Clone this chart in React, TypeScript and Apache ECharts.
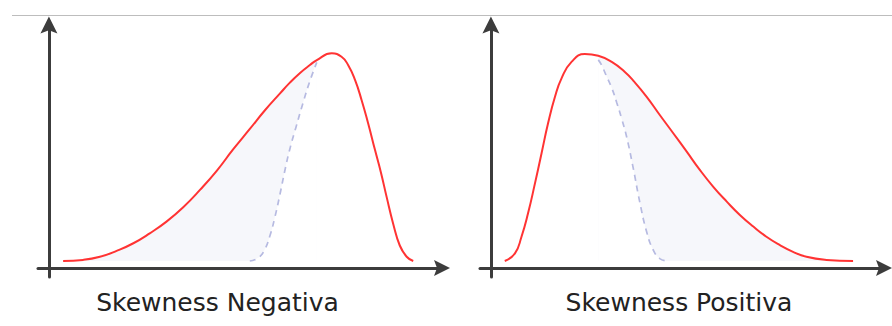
import React, { useEffect, useRef } from "react";
import * as echarts from "echarts";

// Negative skew panel: red curve and dashed (symmetric reference) curve
const negRed: number[][] = [
  [3.9, 3.1], [9.4, 3.6], [14, 5.0], [18.6, 7.6], [23.2, 11.0], [27.7, 15.4],
  [32.3, 20.6], [36.9, 27.0], [41.5, 34.7], [46.1, 43.2], [50.6, 52.7], [55.2, 61.8],
  [59.3, 70.0], [63.5, 77.6], [66.2, 82.4], [69.0, 86.7], [71.7, 90.2], [73.6, 92.4],
  [77.7, 95.4], [80.4, 93.9], [82.2, 90.2], [84.1, 83.6], [85.9, 74.7], [87.7, 64.3],
  [89.6, 52.4], [91.2, 42.6], [92.8, 31.5], [94.6, 19.6], [96.4, 10.0], [98.3, 5.0],
  [100.1, 3.1],
];
const negDashed: number[][] = [
  [55.2, 3.1], [57.4, 4.4], [59.1, 7.6], [60.7, 14.2], [62.1, 22.7], [63.5, 32.9],
  [64.8, 43.1], [66.2, 52.9], [67.9, 62.7], [69.8, 73.3], [71.7, 83.1], [73.6, 91.4],
];

// Positive skew panel
const posRed: number[][] = [
  [3.8, 3.1], [6.6, 6.5], [8.4, 13.9], [10.2, 24.3], [12.1, 37.6], [13.9, 50.9],
  [15.7, 64.3], [17.6, 76.1], [19.4, 84.3], [22.2, 91.7], [25.8, 95.1], [29.5, 94.3],
  [33.2, 91.6], [36.8, 87.1], [39.1, 83.3], [42.8, 76.1], [46.4, 68.0], [50.1, 59.9],
  [53.8, 51.7], [57.4, 43.6], [61.1, 36.1], [64.8, 29.5], [68.4, 23.6], [72.1, 18.4],
  [75.7, 13.9], [79.4, 10.2], [83.0, 7.2], [86.7, 5.0], [92.2, 3.6], [99.5, 3.1],
];
const posDashed: number[][] = [
  [29.5, 92.5], [30.4, 90.2], [31.6, 85.8], [33.2, 80.0], [34.6, 73.3], [35.9, 66.5],
  [37.3, 58.2], [39.1, 44.4], [40.9, 29.3], [42.8, 16.0], [44.6, 8.0], [46.4, 4.2],
  [48.4, 3.1],
];

const panelTitles = ["Skewness Negativa", "Skewness Positiva"];
const baseline = 3.1;

export default function App() {
  const ref = useRef<HTMLDivElement>(null);
  useEffect(() => {
    document.body.style.margin = "0";
    const chart = echarts.init(ref.current!, null, { renderer: "svg" });
    const red = "#ff3333";
    const fill = "#f6f7fb";
    const dashColor = "#b6bae1";
    const axisColor = "#3c3c3c";
    const arrow = "path://M0,-8 L8,8 L0,5 L-8,8 Z";

    const mkX = (i: number) => ({
      type: "value",
      gridIndex: i,
      min: -3,
      max: 108,
      axisLine: {
        show: true,
        onZero: true,
        symbol: ["none", arrow],
        symbolSize: [16, 16],
        lineStyle: { color: axisColor, width: 3 },
      },
      axisTick: { show: false },
      axisLabel: { show: false },
      splitLine: { show: false },
    });
    const mkY = (i: number) => ({
      type: "value",
      gridIndex: i,
      min: -4,
      max: 108,
      axisLine: {
        show: true,
        onZero: true,
        symbol: ["none", arrow],
        symbolSize: [17, 17],
        lineStyle: { color: axisColor, width: 3 },
      },
      axisTick: { show: false },
      axisLabel: { show: false },
      splitLine: { show: false },
    });

    const negFill = negRed.filter((p) => p[0] <= negDashed[negDashed.length - 1][0] + 0.01);
    const posFill = posRed.filter((p) => p[0] >= posDashed[0][0] - 0.01);

    const common = { smooth: 0.5, showSymbol: false, symbol: "none", silent: true };
    const series: any[] = [];
    const addPanel = (i: number, redData: number[][], fillData: number[][], dashData: number[][]) => {
      series.push({
        type: "line", xAxisIndex: i, yAxisIndex: i, data: fillData, ...common,
        lineStyle: { width: 0 },
        areaStyle: { color: fill, opacity: 1, origin: baseline },
      });
      series.push({
        type: "line", xAxisIndex: i, yAxisIndex: i, data: dashData, ...common,
        lineStyle: { color: dashColor, width: 1.7, type: [6, 5] },
        areaStyle: { color: "#ffffff", opacity: 1, origin: baseline },
      });
      series.push({
        type: "line", xAxisIndex: i, yAxisIndex: i, data: redData, ...common,
        lineStyle: { color: red, width: 2 },
      });
    };
    addPanel(0, negRed, negFill, negDashed);
    addPanel(1, posRed, posFill, posDashed);

    chart.setOption({
      animation: false,
      backgroundColor: "#ffffff",
      grid: [
        { left: 38, top: 25, width: 404, height: 252 },
        { left: 480, top: 25, width: 404, height: 252 },
      ],
      xAxis: [mkX(0), mkX(1)],
      yAxis: [mkY(0), mkY(1)],
      series,
      graphic: [
        {
          type: "line",
          shape: { x1: 12, y1: 15.5, x2: 892, y2: 15.5 },
          style: { stroke: "#bdbdbd", lineWidth: 1 },
          z: 10,
        },
        {
          type: "text", x: 217.5, y: 302,
          style: {
            text: panelTitles[0], fontSize: 25, fontFamily: "DejaVu Sans",
            fill: "#222", align: "center", verticalAlign: "middle",
          },
        },
        {
          type: "text", x: 679, y: 302,
          style: {
            text: panelTitles[1], fontSize: 25, fontFamily: "DejaVu Sans",
            fill: "#222", align: "center", verticalAlign: "middle",
          },
        },
      ],
    });
    return () => chart.dispose();
  }, []);
  return <div ref={ref} style={{ width: 892, height: 326 }} />;
}
